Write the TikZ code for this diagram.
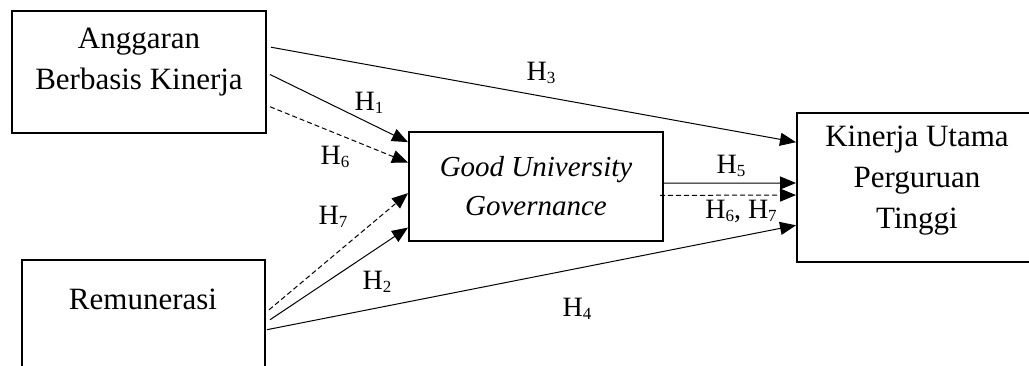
\documentclass[tikz,border=0pt]{standalone}
\usepackage{fontspec}
\setmainfont{Liberation Serif}
\usetikzlibrary{arrows.meta,calc}
\newcommand{\Hs}[1]{H\raisebox{-3pt}{\fontsize{17}{17}\selectfont #1}}
\tikzset{
  box/.style={draw, line width=2pt, minimum width=#1, inner sep=0pt},
  boxtxt/.style={align=center, font=\fontsize{31}{41}\selectfont},
  conn/.style={line width=1pt, -{Triangle[length=16pt,width=13pt]}},
  dconn/.style={conn, dash pattern=on 5pt off 3pt},
  hlab/.style={font=\fontsize{28}{28}\selectfont, inner sep=0pt}
}
\begin{document}
\begin{tikzpicture}[x=1pt,y=-1pt]
\useasboundingbox (0,0) rectangle (1029,365);
\clip (0,0) rectangle (1029,365);
% boxes
\node[box=254pt, minimum height=122pt] (A) at (139,72) {};
\node[box=243pt, minimum height=122pt] (R) at (143.5,321) {};
\node[box=254pt, minimum height=109pt] (G) at (536,186.5) {};
\node[box=240pt, minimum height=149pt] (K) at (917,187.5) {};
% texts
\node[boxtxt] (tA) at (139,62) {Anggaran\\Berbasis Kinerja};
\node[boxtxt] (tR) at (143,299) {Remunerasi};
\node[boxtxt, font=\fontsize{29}{39}\selectfont\itshape] (tG) at (536,186) {Good University\\Governance};
\node[boxtxt] (tK) at (917,181) {Kinerja Utama\\Perguruan\\Tinggi};
% anchor points
\coordinate (a3) at ($(A.north east)!0.30!(A.south east)+(4,0)$);
\coordinate (a1) at ($(A.north east)!0.52!(A.south east)+(3,0)$);
\coordinate (a6) at ($(A.north east)!0.78!(A.south east)+(3,0)$);
\coordinate (r7) at ($(R.north east)!0.41!(R.south east)+(3,0)$);
\coordinate (r2) at ($(R.north east)!0.49!(R.south east)+(4,0)$);
\coordinate (r4) at ($(R.north east)!0.57!(R.south east)+(1,0)$);
\coordinate (g1) at ($(G.north west)!0.10!(G.south west)$);
\coordinate (g6) at ($(G.north west)!0.285!(G.south west)$);
\coordinate (g7) at ($(G.north west)!0.56!(G.south west)$);
\coordinate (g2) at ($(G.north west)!0.87!(G.south west)$);
\coordinate (g5) at ($(G.north east)!0.47!(G.south east)$);
\coordinate (g67) at ($(G.north east)!0.58!(G.south east)+(-4,0)$);
\coordinate (k3) at ($(K.north west)!0.20!(K.south west)$);
\coordinate (k5) at ($(K.north west)!0.47!(K.south west)$);
\coordinate (k67) at ($(K.north west)!0.55!(K.south west)$);
\coordinate (k4) at ($(K.north west)!0.75!(K.south west)$);
% connectors
\draw[conn] (a3) -- (k3);
\draw[conn] (a1) -- (g1);
\draw[dconn] (a6) -- (g6);
\draw[dconn] (r7) -- (g7);
\draw[conn] (r2) -- (g2);
\draw[conn] (r4) -- (k4);
\draw[conn] (g5) -- (k5);
\draw[dconn] (g67) -- (k67);
% labels
\node[hlab] (l1) at (369,103) {\Hs{1}};
\node[hlab] (l6) at (335,157) {\Hs{6}};
\node[hlab] (l3) at (541,73) {\Hs{3}};
\node[hlab] (l5) at (731,166) {\Hs{5}};
\node[hlab] (l67) at (741,211) {\Hs{6}, \Hs{7}};
\node[hlab] (l7) at (333,217) {\Hs{7}};
\node[hlab] (l2) at (377,282) {\Hs{2}};
\node[hlab] (l4) at (577,309) {\Hs{4}};
\end{tikzpicture}
\end{document}
